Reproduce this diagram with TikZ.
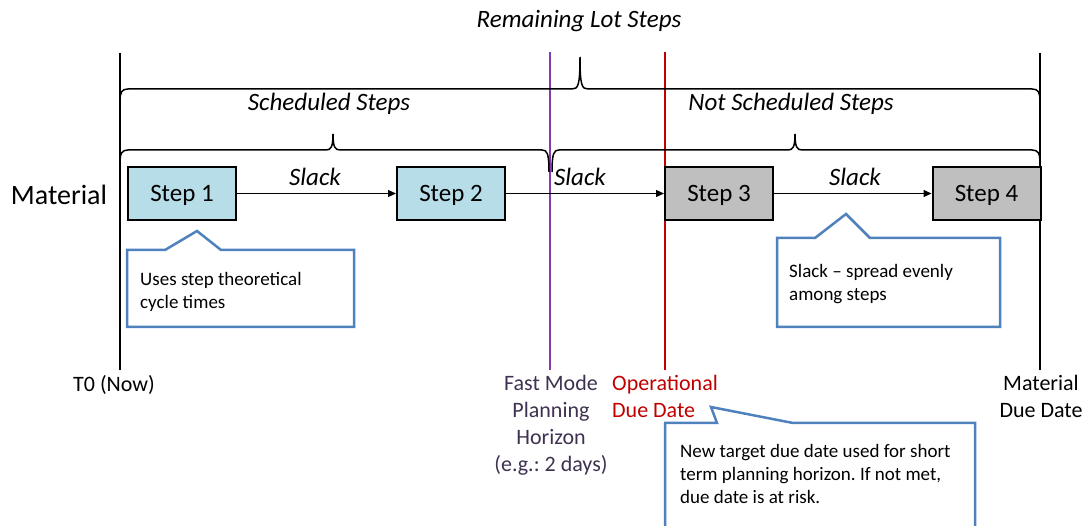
\documentclass[tikz,border=0pt]{standalone}
\usepackage{fontspec}
\setmainfont{Carlito}
\usetikzlibrary{arrows.meta}
\definecolor{stepblue}{HTML}{B7DEE8}
\definecolor{stepgray}{HTML}{BFBFBF}
\definecolor{callblue}{HTML}{4F81BD}
\definecolor{fmpurple}{RGB}{128,60,180}
\definecolor{fmtext}{HTML}{3F3151}
\definecolor{oddred}{HTML}{C00000}
\frenchspacing
\newcommand\myfs[2]{\fontsize{#1}{#2}\selectfont}
\tikzset{
  stepbox/.style={draw=black, line width=2pt, minimum width=108pt, minimum height=53pt, inner sep=0pt, text depth=0pt, font=\myfs{25}{30}},
  schedstep/.style={stepbox, fill=stepblue},
  unschedstep/.style={stepbox, fill=stepgray},
  flow/.style={line width=1.3pt, -{Triangle[length=8pt,width=7pt]}},
  slacklbl/.style={anchor=base, inner sep=0pt, font=\myfs{25}{30}\itshape},
  bracelbl/.style={anchor=base, inner sep=0pt, font=\myfs{25}{30}\itshape},
  mybrace/.style={line width=1.5pt},
  timeline/.style={line width=2pt},
  callout/.style={draw=callblue, line width=2.5pt, line join=miter},
  callouttxt/.style={anchor=north west, inner sep=0pt, align=left, font=\myfs{19}{23}},
  marklbl/.style={anchor=north, inner sep=0pt, align=center, font=\myfs{22}{27}},
}
\begin{document}
\begin{tikzpicture}[x=1pt,y=-1pt]
\useasboundingbox (0,0) rectangle (1088,526);
% time markers
\coordinate (t0top) at (120,53);   \coordinate (t0bot) at (120,370);
\coordinate (fmtop) at (550,52);   \coordinate (fmbot) at (550,370);
\coordinate (odtop) at (665,52);   \coordinate (odbot) at (665,370);
\coordinate (mdtop) at (1040,53);  \coordinate (mdbot) at (1040,370);
\draw[timeline, black] (t0top) -- (t0bot);
\draw[timeline, fmpurple] (fmtop) -- (fmbot);
\draw[timeline, oddred] (odtop) -- (odbot);
\draw[timeline, black] (mdtop) -- (mdbot);
% braces
\draw[mybrace] (120,101) .. controls (120,92) and (122,89) .. (128,89) -- (572,89)
  .. controls (578,89) and (580,86) .. (580,57) .. controls (580,86) and (582,89) .. (588,89)
  -- (1032,89) .. controls (1038,89) and (1040,92) .. (1040,101);
\draw[mybrace] (120,163) .. controls (120,153) and (122,150) .. (128,150) -- (326,150)
  .. controls (331,150) and (333,147) .. (333,134) .. controls (333,147) and (335,150) .. (340,150)
  -- (542,150) .. controls (547,150) and (549,153) .. (549,172);
\draw[mybrace] (552,172) .. controls (552,153) and (554,150) .. (559,150) -- (788,150)
  .. controls (793,150) and (795,147) .. (795,134) .. controls (795,147) and (797,150) .. (802,150)
  -- (1032,150) .. controls (1038,150) and (1040,153) .. (1040,163);
\node[bracelbl] (rls) at (579,28) {Remaining Lot Steps};
\node[bracelbl] (ss) at (329,111) {Scheduled Steps};
\node[bracelbl] (nss) at (791,111) {Not Scheduled Steps};
% material row
\node[font=\myfs{28}{33}, inner sep=0pt] (mat) at (59,195) {Material};
\node[schedstep] (s1) at (182,193.5) {Step 1};
\node[schedstep] (s2) at (451,193.5) {Step 2};
\node[unschedstep] (s3) at (719,193.5) {Step 3};
\node[unschedstep] (s4) at (986.5,193.5) {Step 4};
\draw[flow] (s1) -- (s2);
\draw[flow] (s2) -- (s3);
\draw[flow] (s3) -- (s4);
\node[slacklbl] (sl1) at (315,186) {Slack};
\node[slacklbl] (sl2) at (580,186) {Slack};
\node[slacklbl] (sl3) at (855,186) {Slack};
% callouts
\draw[callout, fill=white] (127,250) -- (165,250) -- (197,231) -- (221,250) -- (354,250) -- (354,327) -- (127,327) -- cycle;
\node[callouttxt] (c1) at (140,272) {Uses step theoretical\\cycle times};
\draw[callout, fill=white] (777,238) -- (815,238) -- (846,214) -- (870,238) -- (1000,238) -- (1000,327) -- (777,327) -- cycle;
\node[callouttxt] (c2) at (789,264) {Slack -- spread evenly\\among steps};
\draw[callout, fill=white] (665,535) -- (665,423) -- (717,423) -- (711,407) -- (793,423) -- (975,423) -- (975,535);
\node[callouttxt] (c3) at (680,444) {New target due date used for short\\term planning horizon. If not met,\\due date is at risk.};
% marker labels
\node[marklbl] (t0l) at (114,375) {T0 (Now)};
\node[marklbl, text=fmtext] (fml) at (551,375) {Fast Mode\\Planning\\Horizon\\(e.g.: 2 days)};
\node[marklbl, anchor=north west, align=left, text=oddred] (odl) at (612,375) {Operational\\Due Date};
\node[marklbl] (mdl) at (1041,375) {Material\\Due Date};
\end{tikzpicture}
\end{document}
